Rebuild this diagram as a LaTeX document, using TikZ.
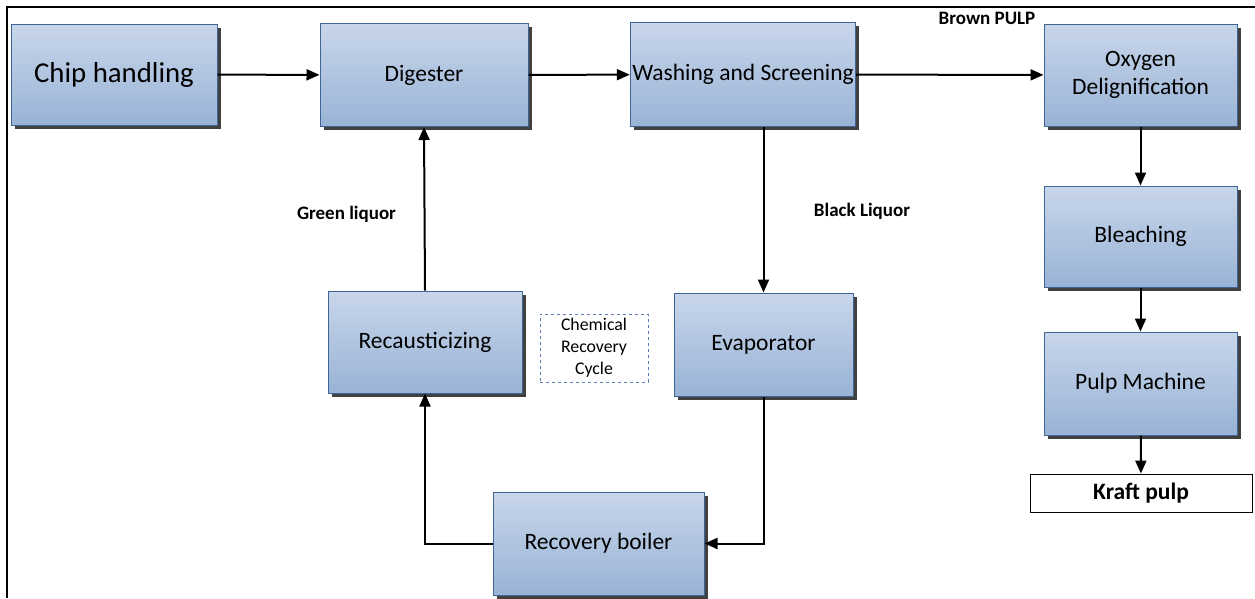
\documentclass[tikz,border=0pt]{standalone}
\usepackage{fontspec}
\setmainfont{Carlito}
\usetikzlibrary{arrows.meta,shadows}
\definecolor{boxtop}{HTML}{C8D6EA}
\definecolor{boxbot}{HTML}{99B3D6}
\definecolor{boxline}{HTML}{3F6496}
\definecolor{shadowgray}{HTML}{404040}
\definecolor{dashblue}{HTML}{5B7DB0}
\tikzset{
  stage/.style={draw=boxline, line width=1pt, top color=boxtop, bottom color=boxbot,
    align=center, font=\fontsize{23.5}{28}\selectfont, text=black, inner sep=2pt,
    drop shadow={shadow xshift=3.5pt, shadow yshift=-3.5pt, fill=shadowgray, opacity=1}},
  flow/.style={line width=2pt, -{Triangle[length=13pt,width=11pt]}},
  tag/.style={font=\bfseries\fontsize{19}{22}\selectfont, text=black},
}
\begin{document}
\begin{tikzpicture}[x=1pt,y=-1pt]
  \useasboundingbox (0,0) rectangle (1255,598);
  % page frame (top and left edges)
  \draw[line width=2.2pt] (1255,7) -- (7,7) -- (7,598);

  % main line
  \node[stage, minimum width=206pt, minimum height=101pt, font=\fontsize{28.8}{32}\selectfont] (chip) at (114,74.5) {Chip handling};
  \node[stage, minimum width=208pt, minimum height=103pt] (dig) at (424,75) {Digester};
  \node[stage, minimum width=210pt, minimum height=104pt] (wash) at (743,74.5) {Washing and Screening};
  \node[stage, minimum width=193pt, minimum height=102pt] (oxy) at (1140.5,75) {Oxygen\\Delignification};
  \node[stage, minimum width=193pt, minimum height=101pt] (bleach) at (1140.5,236.5) {Bleaching};
  \node[stage, minimum width=193pt, minimum height=103pt] (pulpm) at (1140.5,383.5) {Pulp Machine};
  \node[draw=black, line width=0.9pt, fill=white, minimum width=222pt, minimum height=38pt,
        font=\bfseries\fontsize{23.5}{28}\selectfont, inner sep=0pt] (kraft) at (1141,493) {Kraft pulp};

  % chemical recovery loop
  \node[stage, minimum width=194pt, minimum height=102pt] (recaus) at (425,342) {Recausticizing};
  \node[stage, minimum width=179pt, minimum height=103pt] (evap) at (763.5,344.5) {Evaporator};
  \node[stage, minimum width=211pt, minimum height=103pt] (boiler) at (598.5,543.5) {Recovery boiler};
  \node[draw=dashblue, dashed, line width=0.9pt, minimum width=108pt, minimum height=68pt,
        align=center, font=\fontsize{17.8}{22}\selectfont, inner sep=0pt] (crc) at (594,348) {Chemical\\Recovery\\Cycle};

  % connectors
  \draw[flow] (chip) -- (dig);
  \draw[flow] (dig) -- (wash);
  \draw[flow] (wash) -- (oxy);
  \draw[flow] (evap.north |- wash.south) -- (evap.north);
  \draw[flow] (evap.south) |- (boiler.east);
  \draw[flow] (boiler.west) -| (recaus.south);
  \draw[flow] (recaus.north) -- (dig.south);
  \draw[flow] (oxy) -- (bleach);
  \draw[flow] (bleach) -- (pulpm);
  \draw[flow] (pulpm) -- (kraft);

  % stream labels
  \node[tag] (brown) at (987,18) {Brown PULP};
  \node[tag] (green) at (346.5,214) {Green liquor};
  \node[tag] (black) at (862,211) {Black Liquor};
\end{tikzpicture}
\end{document}
